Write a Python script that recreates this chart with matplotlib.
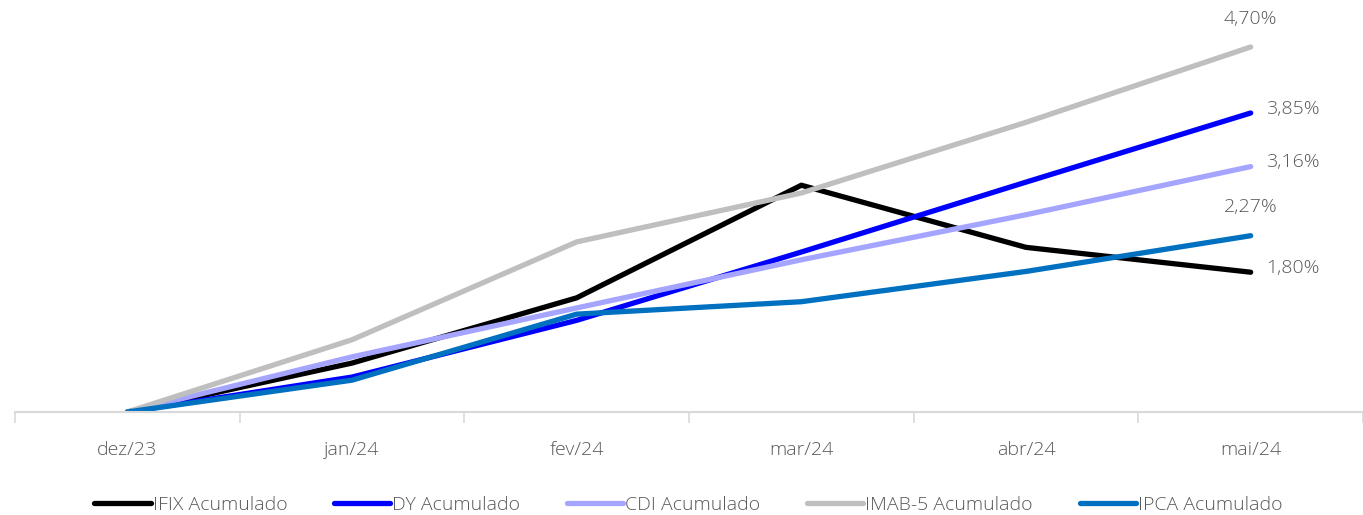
import matplotlib.pyplot as plt
import numpy as np

meses = ['dez/23', 'jan/24', 'fev/24', 'mar/24', 'abr/24', 'mai/24']
ifix = [0, 0.63, 1.47, 2.92, 2.12, 1.80]
dy = [0, 0.45, 1.18, 2.06, 2.96, 3.85]
cdi = [0, 0.71, 1.34, 1.96, 2.54, 3.16]
imab5 = [0, 0.93, 2.19, 2.82, 3.73, 4.70]
ipca = [0, 0.41, 1.26, 1.42, 1.81, 2.27]

nomes = ['IFIX Acumulado', 'DY Acumulado', 'CDI Acumulado', 'IMAB-5 Acumulado', 'IPCA Acumulado']
cores = ['#000000', '#0000FF', '#A5A5FF', '#BFBFBF', '#0070C0']

plt.rcParams['font.family'] = ['Open Sans', 'DejaVu Sans']
plt.rcParams['font.weight'] = 300
txt = '#595959'
fs = 14

fig = plt.figure(figsize=(13.63, 5.15), dpi=100)
ax = fig.add_axes([0.011, 0.2, 0.989, 0.8])

x = np.arange(len(meses))
for serie, nome, cor in zip([ifix, dy, cdi, imab5, ipca], nomes, cores):
    ax.plot(x, serie, color=cor, lw=3.8, label=nome, solid_capstyle='round')

# rótulos do último ponto
fmt = lambda v: f'{v:.2f}%'.replace('.', ',')
ax.annotate(fmt(imab5[-1]), (x[-1], imab5[-1]), xytext=(0, 14), textcoords='offset points',
            ha='center', va='bottom', fontsize=fs, color=txt)
ax.annotate(fmt(ipca[-1]), (x[-1], ipca[-1]), xytext=(0, 14), textcoords='offset points',
            ha='center', va='bottom', fontsize=fs, color=txt)
for serie in [dy, cdi, ifix]:
    ax.annotate(fmt(serie[-1]), (x[-1], serie[-1]), xytext=(11, 3), textcoords='offset points',
                ha='left', va='center', fontsize=fs, color=txt)

ax.set_xlim(-0.5, 5.5)
ax.set_ylim(0, 5.305)
ax.set_yticks([])
ax.set_xticks(x)
ax.set_xticklabels(meses, fontsize=fs, color=txt)
ax.set_xticks(np.arange(-0.5, 5.6, 1), minor=True)
ax.tick_params(axis='x', which='major', length=0, pad=21)
ax.tick_params(axis='x', which='minor', length=8, color='#D9D9D9', width=1.2)
for s in ['top', 'right', 'left']:
    ax.spines[s].set_visible(False)
ax.spines['bottom'].set_color('#D9D9D9')
ax.spines['bottom'].set_linewidth(1.5)

leg = fig.legend(loc='center', bbox_to_anchor=(0.505, 0.02), ncol=5, frameon=False,
                 fontsize=fs, handlelength=2.9, handletextpad=0.1, columnspacing=2.4)
for t in leg.get_texts():
    t.set_color(txt)

fig.savefig('out.png', dpi=100)
